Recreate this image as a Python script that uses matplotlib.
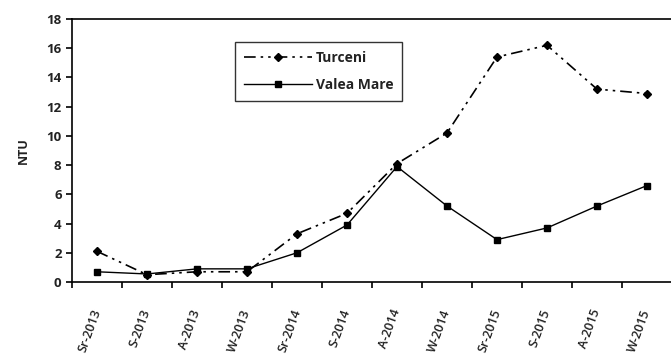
import matplotlib
matplotlib.use("Agg")
import matplotlib.pyplot as plt
import numpy as np

seasons = ["Sr-2013", "S-2013", "A-2013", "W-2013",
           "Sr-2014", "S-2014", "A-2014", "W-2014",
           "Sr-2015", "S-2015", "A-2015", "W-2015"]
turceni = [2.1, 0.5, 0.7, 0.7, 3.3, 4.7, 8.1, 10.2, 15.4, 16.2, 13.2, 12.9]
valea_mare = [0.7, 0.55, 0.9, 0.9, 2.0, 3.9, 7.9, 5.2, 2.9, 3.7, 5.2, 6.6]

plt.rcParams["font.family"] = ["Open Sans", "DejaVu Sans"]

fig = plt.figure(figsize=(6.71, 3.60), dpi=100)
ax = fig.add_axes([72 / 671, 78 / 360, 600 / 671, 263 / 360])

x = np.arange(len(seasons))
ax.plot(x, turceni, color="black", lw=1.2, dashes=(7, 3, 1.5, 3, 1.5, 3),
        marker="D", ms=4, label="Turceni")
ax.plot(x, valea_mare, color="black", lw=1.0, marker="s", ms=4.5,
        label="Valea Mare")

ax.set_xlim(-0.5, len(seasons) - 0.5)
ax.set_ylim(0, 18)
ax.set_yticks(np.arange(0, 19, 2))
ax.set_xticks(x - 0.5, minor=False)
ax.set_xticklabels([])
ax.set_xticks(x, minor=True)
ax.set_xticklabels(seasons, minor=True, rotation=70, ha="right",
                   va="center", fontsize=9, fontweight="semibold",
                   color="#222222", rotation_mode="anchor")
ax.tick_params(axis="x", which="minor", length=0, pad=20)
ax.tick_params(axis="x", which="major", direction="out", length=4, width=1.2)
ax.tick_params(axis="y", direction="out", length=4, width=1.2,
               labelsize=9.5, labelcolor="#222222")
for lab in ax.get_yticklabels():
    lab.set_fontweight("bold")

for side in ["left", "bottom", "top"]:
    ax.spines[side].set_linewidth(1.2)
ax.spines["right"].set_visible(False)

ax.set_ylabel("NTU", fontsize=9, fontweight="bold", color="#222222", labelpad=12)

leg = ax.legend(loc="upper left", bbox_to_anchor=(163 / 600, 1 - 23 / 263),
                borderaxespad=0, frameon=True, fancybox=False,
                edgecolor="black", fontsize=10, handlelength=4.9,
                handletextpad=0.25, borderpad=0.65, labelspacing=0.95)
leg.get_frame().set_linewidth(1.0)
for t in leg.get_texts():
    t.set_fontweight("bold")
    t.set_color("#222222")

fig.savefig("out.png", dpi=100)
